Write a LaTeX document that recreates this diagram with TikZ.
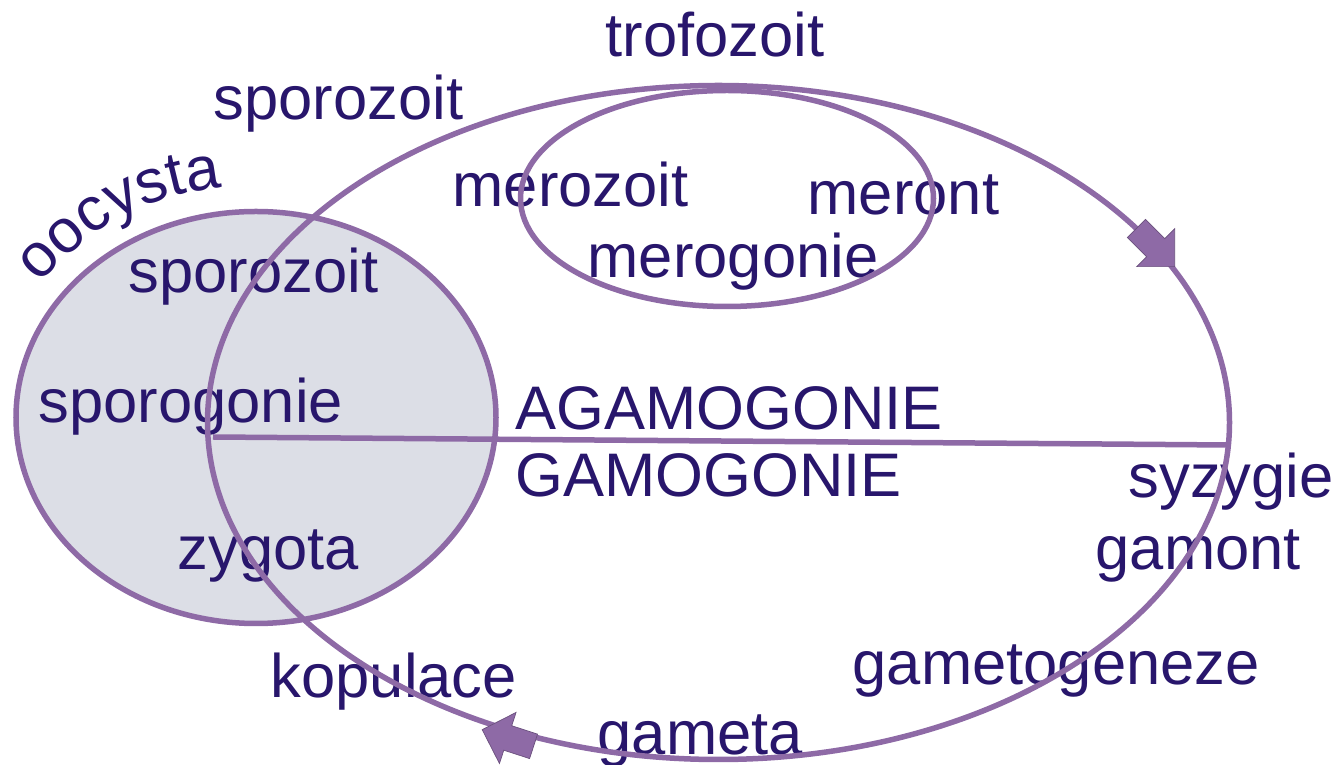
\documentclass[tikz,border=0pt]{standalone}
\usepackage{fontspec}
\setmainfont{Liberation Sans}
\usetikzlibrary{shapes.arrows, decorations.text}

\definecolor{cyclepurple}{RGB}{142,106,166}
\definecolor{labelblue}{RGB}{40,22,108}
\definecolor{cystgray}{RGB}{220,222,230}

\begin{document}
\begin{tikzpicture}[
  x=0.1mm, y=-0.1mm,
  cycleline/.style={draw=cyclepurple, line width=0.55mm},
  stage/.style={font=\fontsize{17.5}{21}\selectfont, text=labelblue, inner sep=0, anchor=base west},
  cyclearrow/.style={
    single arrow,
    fill=cyclepurple,
    draw=cyclepurple!75!black,
    line width=0.2pt,
    minimum height=5.4mm,
    inner xsep=0,
    inner ysep=1.25mm,
    single arrow head extend=1.4mm
    }
]
\useasboundingbox (0,0) rectangle (1338,765);

\coordinate (cyst) at (256,417.5);
\coordinate (cycle) at (718.5,422.5);
\coordinate (mero) at (727,198.5);
\coordinate (splitL) at (213,437);
\coordinate (splitR) at (1228,445);

\fill[cystgray] (cyst) ellipse [x radius=240, y radius=206];

% stages
\node[stage] (trofo) at (605,57) {trofozoit};
\node[stage] (sporoA) at (213,120) {sporozoit};
\node[stage] (merozoit) at (452,207) {merozoit};
\node[stage] (meront) at (807,215) {meront};
\node[stage] (merogonie) at (587,278) {merogonie};
\node[stage] (sporoB) at (128,293) {sporozoit};
\node[stage] (sporogonie) at (38,423) {sporogonie};
\node[stage] (agamo) at (515,430) {AGAMOGONIE};
\node[stage] (gamo) at (515,497) {GAMOGONIE};
\node[stage] (syzygie) at (1128,498) {syzygie};
\node[stage] (gamont) at (1095,570) {gamont};
\node[stage] (zygota) at (177,570) {zygota};
\node[stage] (gametog) at (852,685) {gametogeneze};
\node[stage] (kopulace) at (270,698) {kopulace};
\node[stage] (gameta) at (597,755) {gameta};

\path[decorate, decoration={text along path, text color=labelblue,
  text={|\fontsize{17.5}{21}\selectfont|oocysta}}]
  (40,284) to[bend left=22] (238,186);

% cycles
\draw[cycleline] (cycle) ellipse [x radius=511, y radius=337];
\draw[cycleline] (mero) ellipse [x radius=206.5, y radius=108];
\draw[cycleline] (cyst) ellipse [x radius=240, y radius=206];
\draw[cycleline] (splitL) -- (splitR);

\node[cyclearrow, rotate=-45] (toMeront) at (1151,243) {};
\node[cyclearrow, rotate=162] (toZygota) at (514,740) {};

\end{tikzpicture}
\end{document}
